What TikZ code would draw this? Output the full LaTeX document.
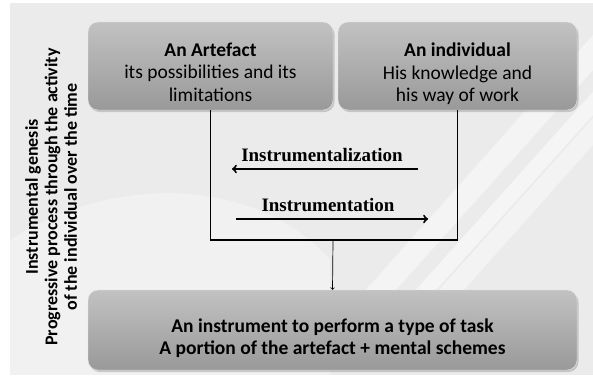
\documentclass[tikz,border=0pt]{standalone}
\usepackage{fontspec}
\setmainfont{Carlito}
\newfontfamily\timesfont{Liberation Serif}
\usetikzlibrary{shadows}

\tikzset{
  box/.style={rounded corners=10pt,draw=black!10,top color=black!24,bottom color=black!40,
    drop shadow={opacity=0.35,shadow xshift=1.5pt,shadow yshift=-2pt}},
  boxtext/.style={align=center,font=\fontsize{19.5}{22.5}\selectfont},
  label/.style={font=\timesfont\bfseries\fontsize{19}{20}\selectfont}
}

\begin{document}
\begin{tikzpicture}[x=1pt,y=-1pt]
                \useasboundingbox (0,0) rectangle (593,375);
                %% background
                \fill[black!8] (10,3) rectangle (593,375);
                \begin{scope}
                  \clip (10,3) rectangle (593,375);
                  \fill[white,opacity=0.35] (10,240) .. controls (120,170) and (260,180) .. (330,260) -- (330,375) -- (10,375) -- cycle;
                  \fill[white,opacity=0.45] (330,330) -- (360,330) -- (593,70) -- (593,35) -- cycle;
                  \fill[white,opacity=0.55] (380,330) -- (400,330) -- (593,115) -- (593,92) -- cycle;
                  \fill[white,opacity=0.4] (430,300) -- (455,300) -- (593,145) -- (593,118) -- cycle;
                \end{scope}
                %% boxes
                \node[box,minimum width=245pt,minimum height=88pt] (A) at (210.5,66) {};
                \node[box,minimum width=239pt,minimum height=88pt] (B) at (457.5,66) {};
                \node[box,minimum width=489pt,minimum height=80pt] (C) at (332.5,330) {};
                \node[boxtext] (At) at ([yshift=-6pt]A.center)
                  {\textbf{An Artefact}\\its possibilities and its\\limitations};
                \node[boxtext] (Bt) at ([yshift=-8pt]B.center)
                  {\textbf{An individual}\\His knowledge and\\his way of work};
                \node[boxtext,font=\bfseries\fontsize{19.5}{22.5}\selectfont] (Ct) at ([yshift=-8pt]C.center)
                  {An instrument to perform a type of task\\A portion of the artefact + mental schemes};
                %% side text
                \node[rotate=90,align=center,font=\bfseries\fontsize{18}{19.5}\selectfont] (G) at (51,197)
                  {Instrumental genesis\\Progressive process through the activity\\of the individual over the time};
                %% frame
                \draw[line width=1.8pt] (A.south) -- ++(0,130) -| (B.south);
                \coordinate (F) at (333,240);
                \draw[->,line width=0.7pt] (F) -- (C.north);
                %% labels
                \node[label] (L1) at (322,155) {Instrumentalization};
                \node[label] (L2) at (328,205) {Instrumentation};
                \coordinate (L1e) at (418,169);
                \coordinate (L1w) at (232,169);
                \coordinate (L2w) at (236,219);
                \coordinate (L2e) at (428,219);
                \draw[line width=2pt,->] (L1e) -- (L1w);
                \draw[line width=2pt,->] (L2w) -- (L2e);
            \end{tikzpicture}
\end{document}
